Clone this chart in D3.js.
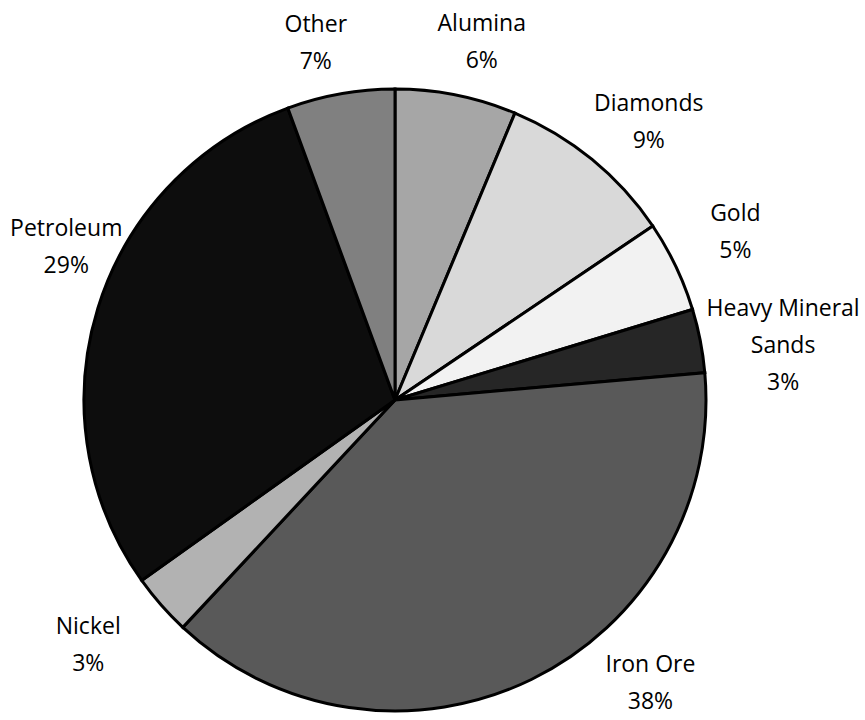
<!DOCTYPE html>
<html>
<head>
<meta charset="utf-8">
<script src="https://cdn.jsdelivr.net/npm/d3@7"></script>
<style>
  html, body { margin: 0; padding: 0; background: #ffffff; }
  svg { display: block; }
  text { font-family: 'Open Sans', 'Liberation Sans', sans-serif; }
</style>
</head>
<body>
<svg id="chart" width="865" height="720"></svg>
<script>
// ---- data (clockwise from 12 o'clock) ----
const categories = ["Alumina", "Diamonds", "Gold", "Heavy Mineral Sands", "Iron Ore", "Nickel", "Petroleum", "Other"];
const shares     = [6.3, 9.25, 4.75, 3.3, 38.35, 3.2, 29.25, 5.6];
const pctLabels  = ["6%", "9%", "5%", "3%", "38%", "3%", "29%", "7%"];

// ---- styles / layout (kept apart from data) ----
const fills = ["#a6a6a6", "#d9d9d9", "#f2f2f2", "#262626", "#595959", "#b2b2b2", "#0d0d0d", "#808080"];
const nameLines = { "Heavy Mineral Sands": ["Heavy Mineral", "Sands"] };
// label block centre: polar angle (deg, clockwise from top) and distance from pie centre
const labelAngle  = [13.6, 42.3, 63.6, 81.9, 137.9, 231.5, 295.1, 347.5];
const labelRadius = [369, 377, 380, 392, 381, 392, 363, 366];

const W = 865, H = 720;
const cx = 395, cy = 400, R = 311;
const fontSize = 23, lineGap = 37;

const svg = d3.select("#chart");
const g = svg.append("g").attr("transform", `translate(${cx},${cy})`);

const pie = d3.pie().sort(null).value(d => d.v).startAngle(0).endAngle(2 * Math.PI);
const data = categories.map((c, i) => ({ c, v: shares[i], i }));
const arcs = pie(data);
const arc = d3.arc().innerRadius(0).outerRadius(R);

g.selectAll("path.slice")
  .data(arcs)
  .join("path")
  .attr("class", "slice")
  .attr("d", arc)
  .attr("fill", d => fills[d.data.i])
  .attr("stroke", "#000")
  .attr("stroke-width", 3)
  .attr("stroke-linejoin", "miter");

const labels = g.selectAll("g.lbl")
  .data(arcs)
  .join("g")
  .attr("class", "lbl")
  .attr("transform", d => {
    const a = labelAngle[d.data.i] * Math.PI / 180;
    const r = labelRadius[d.data.i];
    return `translate(${r * Math.sin(a)},${-r * Math.cos(a)})`;
  });

labels.each(function(d) {
  const lines = (nameLines[d.data.c] || [d.data.c]).concat([pctLabels[d.data.i]]);
  const n = lines.length;
  d3.select(this).selectAll("text")
    .data(lines)
    .join("text")
    .attr("text-anchor", "middle")
    .attr("x", 0)
    .attr("y", (t, k) => (k - (n - 1) / 2) * lineGap)
    .attr("dy", "0.36em")
    .attr("font-size", fontSize)
    .attr("fill", "#000")
    .text(t => t);
});
</script>
</body>
</html>
